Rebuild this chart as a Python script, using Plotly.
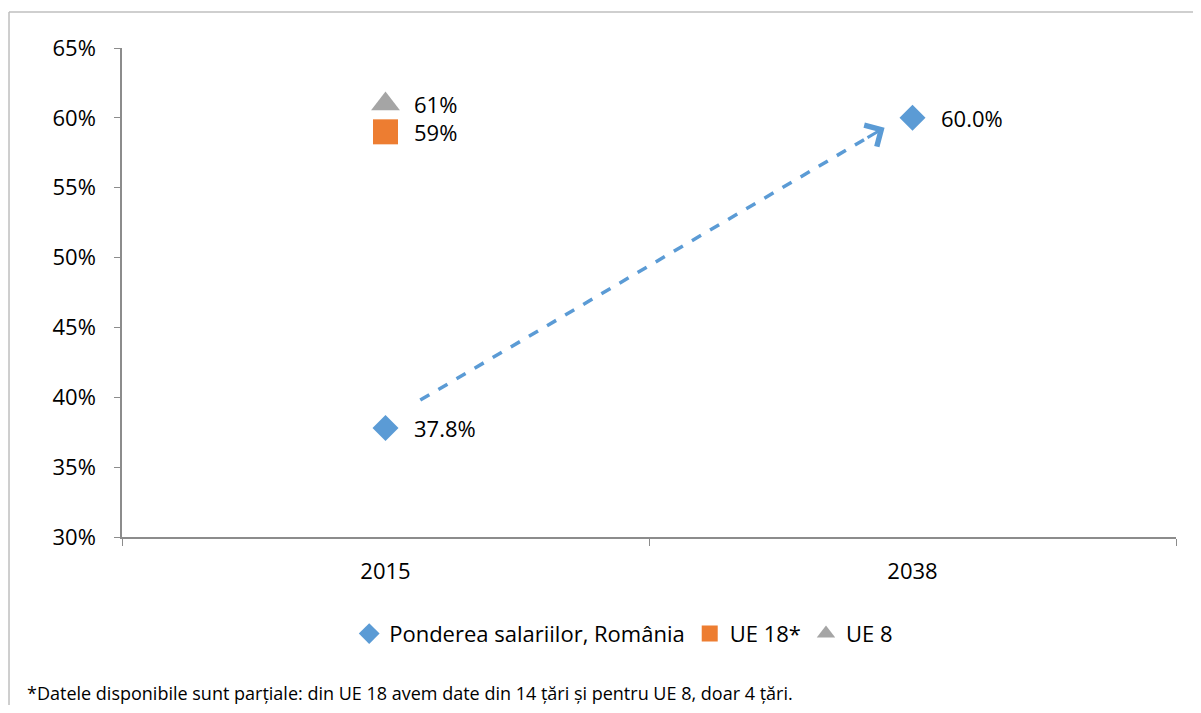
import plotly.graph_objects as go

# ---- data ----
years = ["2015", "2038"]
romania = [0.378, 0.600]
ue18_idx = [0]
ue18 = [0.59]
ue8_idx = [0]
ue8 = [0.61]
y_ticks = [0.30, 0.35, 0.40, 0.45, 0.50, 0.55, 0.60, 0.65]
footnote = "*Datele disponibile sunt parțiale: din UE 18 avem date din 14 țări și pentru UE 8, doar 4 țări."

BLUE = "#5B9BD5"
ORANGE = "#ED7D31"
GRAY = "#A5A5A5"
AXIS = "#8C8C8C"
FONT = "Open Sans"

fig = go.Figure()
fig.add_trace(go.Scatter(x=years, y=romania, mode="markers", name="Ponderea salariilor, România",
                         marker=dict(symbol="diamond", size=20, color=BLUE)))
fig.add_trace(go.Scatter(x=[years[i] for i in ue18_idx], y=ue18, mode="markers", name="UE 18*",
                         marker=dict(symbol="square", size=25, color=ORANGE)))
fig.add_trace(go.Scatter(x=[years[i] for i in ue8_idx], y=ue8, mode="markers", name="UE 8",
                         marker=dict(symbol="triangle-up", size=25, color=GRAY)))

LBL = dict(size=22, color="#000", family=FONT)
annotations = []
for i, v in enumerate(romania):
    annotations.append(dict(x=i, y=v, xref="x", yref="y", text=f"{v*100:.1f}%", showarrow=False,
                            xanchor="left", xshift=26, font=LBL))
for i, v in zip(ue18_idx, ue18):
    annotations.append(dict(x=i, y=v, xref="x", yref="y", text=f"{v*100:.0f}%", showarrow=False,
                            xanchor="left", xshift=26, font=LBL))
for i, v in zip(ue8_idx, ue8):
    annotations.append(dict(x=i, y=v, xref="x", yref="y", text=f"{v*100:.0f}%", showarrow=False,
                            xanchor="left", xshift=26, font=LBL))

# trend arrow (decoration)
ax0, ay0 = 0.066, 0.398
ax1, ay1 = 0.947, 0.593
f = 0.04
bx, by = ax1 - (ax1 - ax0) * f, ay1 - (ay1 - ay0) * f
annotations.append(dict(x=ax1, y=ay1, ax=bx, ay=by, xref="x", yref="y", axref="x", ayref="y",
                        showarrow=True, arrowhead=4, arrowsize=1.6, arrowwidth=3, arrowcolor=BLUE, text=""))
annotations.append(dict(x=-0.092, y=-0.319, xref="paper", yref="paper", text=footnote,
                        showarrow=False, xanchor="left", yanchor="middle",
                        font=dict(size=18, color="#000", family=FONT)))

shapes = [
    dict(type="line", xref="x", yref="y", x0=ax0, y0=ay0, x1=bx, y1=by,
         line=dict(color=BLUE, width=3.5, dash="dash")),
    # outer chart border (top & left)
    dict(type="line", xref="paper", yref="paper", x0=-0.1072, y0=1.0736, x1=1.03, y1=1.0736,
         line=dict(color="#BFBFBF", width=1.5)),
    dict(type="line", xref="paper", yref="paper", x0=-0.1072, y0=1.0736, x1=-0.1072, y1=-0.37,
         line=dict(color="#BFBFBF", width=1.5)),
]

fig.update_layout(
    width=1185, height=697,
    margin=dict(l=114, r=17, t=40, b=168),
    paper_bgcolor="white", plot_bgcolor="white",
    font=dict(family=FONT, size=22, color="#000"),
    showlegend=True,
    legend=dict(orientation="h", x=0.476, xanchor="center", y=-0.198, yanchor="middle",
                font=dict(size=22), itemwidth=30, tracegroupgap=0),
    annotations=annotations,
    shapes=shapes,
    xaxis=dict(type="category", range=[-0.5, 1.5], tickson="boundaries",
               showline=True, linecolor=AXIS, linewidth=1.5, ticks="outside",
               ticklen=7, tickcolor=AXIS, showgrid=False, zeroline=False,
               tickfont=dict(size=22), fixedrange=True, ticklabelstandoff=14),
    yaxis=dict(range=[0.30, 0.65], tickvals=y_ticks, tickformat=".0%",
               showline=True, linecolor=AXIS, linewidth=1.5, ticks="outside",
               ticklen=6, tickcolor=AXIS, showgrid=False, zeroline=False,
               tickfont=dict(size=22), ticklabelstandoff=14),
)

fig.write_html("out.html")
